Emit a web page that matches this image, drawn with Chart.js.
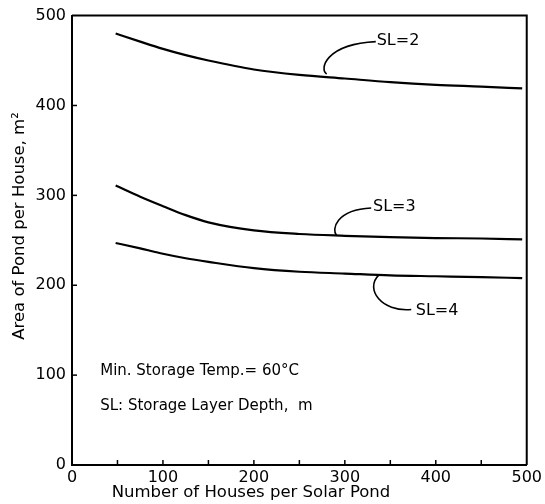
<!DOCTYPE html>
<html>
<head>
<meta charset="utf-8">
<script src="https://cdn.jsdelivr.net/npm/chart.js@4"></script>
<style>
  html, body { margin: 0; padding: 0; background: #fff; }
  #wrap { width: 545px; height: 504px; }
</style>
</head>
<body>
<div id="wrap"><canvas id="pondChart" width="545" height="504"></canvas></div>
<script>
// data
const houses = [48, 75, 100, 125, 150, 200, 250, 300, 350, 400, 450, 495];
const sl2 = [480, 471, 463, 456, 450, 440, 434, 430, 426, 423, 421, 419];
const sl3 = [311, 298.5, 288, 278, 270, 261, 257, 255, 253.5, 252.5, 252, 251];
const sl4 = [247, 241, 235, 230, 226, 219, 215, 213, 211, 210, 209, 208];
const xTicks = [0, 100, 200, 300, 400, 500];
const yTicks = [0, 100, 200, 300, 400, 500];

// curve labels with their leader lines (data units)
const curveLabels = ["SL=2", "SL=3", "SL=4"];
const labelPos = [[335, 472], [331, 287], [378, 172]];
const leaders = [
  [[334, 471], [278, 468], [272, 440], [280, 435]],
  [[329, 286], [290, 284], [285, 262], [291, 255]],
  [[337, 211], [322, 196], [340, 170], [373, 173]]
];
const notes = ["Min. Storage Temp.= 60\u00b0C", "SL: Storage Layer Depth,  m"];
const notePos = [[31, 105], [31, 66]];

const FONT = "'DejaVu Sans', sans-serif";

function toData(xs, ys) {
  return xs.map((x, i) => ({ x: x, y: ys[i] }));
}

const extras = {
  id: "extras",
  afterDraw(chart) {
    const ctx = chart.ctx;
    const xs = chart.scales.x;
    const ys = chart.scales.y;
    const a = chart.chartArea;
    ctx.save();
    ctx.strokeStyle = "#000";
    ctx.fillStyle = "#000";

    // frame top and right
    ctx.lineWidth = 2;
    ctx.beginPath();
    ctx.moveTo(a.left, a.top);
    ctx.lineTo(a.right, a.top);
    ctx.lineTo(a.right, a.bottom);
    ctx.stroke();

    // inward ticks
    ctx.lineWidth = 1.5;
    for (let v = 50; v < 500; v += 50) {
      const px = xs.getPixelForValue(v);
      ctx.beginPath();
      ctx.moveTo(px, a.bottom);
      ctx.lineTo(px, a.bottom - 5);
      ctx.stroke();
    }
    for (let v = 100; v < 500; v += 100) {
      const py = ys.getPixelForValue(v);
      ctx.beginPath();
      ctx.moveTo(a.left, py);
      ctx.lineTo(a.left + 5, py);
      ctx.stroke();
    }

    // leader lines
    ctx.lineWidth = 1.6;
    leaders.forEach((pts) => {
      const p = pts.map((q) => [xs.getPixelForValue(q[0]), ys.getPixelForValue(q[1])]);
      ctx.beginPath();
      ctx.moveTo(p[0][0], p[0][1]);
      ctx.bezierCurveTo(p[1][0], p[1][1], p[2][0], p[2][1], p[3][0], p[3][1]);
      ctx.stroke();
    });

    // labels
    ctx.font = "16px " + FONT;
    ctx.textBaseline = "middle";
    ctx.textAlign = "left";
    curveLabels.forEach((t, i) => {
      ctx.fillText(t, xs.getPixelForValue(labelPos[i][0]), ys.getPixelForValue(labelPos[i][1]));
    });
    ctx.font = "15px " + FONT;
    notes.forEach((t, i) => {
      ctx.fillText(t, xs.getPixelForValue(notePos[i][0]), ys.getPixelForValue(notePos[i][1]));
    });

    // axis titles
    ctx.font = "16.5px " + FONT;
    ctx.textAlign = "center";
    ctx.fillText("Number of Houses per Solar Pond", 251, 493);
    ctx.translate(20, 226);
    ctx.rotate(-Math.PI / 2);
    ctx.fillText("Area of Pond per House, m\u00b2", 0, 0);
    ctx.restore();
  }
};

const lineStyle = {
  borderColor: "#000",
  borderWidth: 2.2,
  pointRadius: 0,
  showLine: true,
  fill: false,
  cubicInterpolationMode: "monotone"
};

new Chart(document.getElementById("pondChart"), {
  type: "scatter",
  data: {
    datasets: [
      Object.assign({ label: "SL=2", data: toData(houses, sl2) }, lineStyle),
      Object.assign({ label: "SL=3", data: toData(houses, sl3) }, lineStyle),
      Object.assign({ label: "SL=4", data: toData(houses, sl4) }, lineStyle)
    ]
  },
  options: {
    responsive: false,
    animation: false,
    layout: { padding: { top: 14, right: 16, left: 0, bottom: 0 } },
    plugins: { legend: { display: false }, tooltip: { enabled: false } },
    scales: {
      x: {
        type: "linear",
        min: 0,
        max: 500,
        afterFit(scale) { scale.height = 39; },
        afterBuildTicks(scale) { scale.ticks = xTicks.map((v) => ({ value: v })); },
        grid: { display: true, drawOnChartArea: false, drawTicks: false },
        border: { display: true, color: "#000", width: 2 },
        ticks: { color: "#000", padding: 3, font: { family: FONT, size: 16 } }
      },
      y: {
        type: "linear",
        min: 0,
        max: 500,
        afterFit(scale) { scale.width = 72; },
        afterBuildTicks(scale) { scale.ticks = yTicks.map((v) => ({ value: v })); },
        grid: { display: true, drawOnChartArea: false, drawTicks: false },
        border: { display: true, color: "#000", width: 2 },
        ticks: { color: "#000", padding: 6, font: { family: FONT, size: 16 } }
      }
    }
  },
  plugins: [extras]
});
</script>
</body>
</html>
